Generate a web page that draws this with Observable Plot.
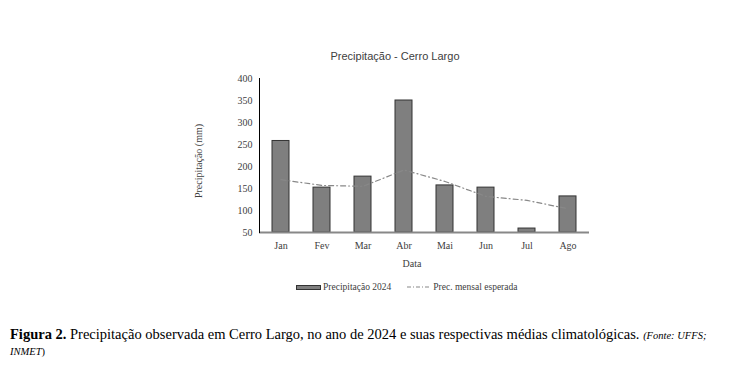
<!DOCTYPE html>
<html>
<head>
<meta charset="utf-8">
<script src="https://cdn.jsdelivr.net/npm/d3@7"></script>
<script src="https://cdn.jsdelivr.net/npm/@observablehq/plot@0.6"></script>
<style>
  html, body { margin: 0; padding: 0; background: #fff; }
  #wrap { position: relative; width: 737px; height: 377px; overflow: hidden; }
  #chart { position: absolute; left: 0; top: 0; }
  .abs { position: absolute; white-space: nowrap; }
  #title { left: 395px; top: 50px; transform: translateX(-50%); font: 11px "Liberation Sans", Arial, sans-serif; color: #404040; }
  #xlabel { left: 412px; top: 258px; transform: translateX(-50%); font: 10px "Liberation Serif", "Times New Roman", serif; color: #404040; }
  #ylabel { left: 198px; top: 161px; transform: translate(-50%, -50%) rotate(-90deg); font: 10px "Liberation Serif", "Times New Roman", serif; color: #404040; }
  #legend { left: 296px; top: 282px; font: 9.5px "Liberation Serif", "Times New Roman", serif; color: #404040; display: flex; align-items: center; }
  .sw-bar { display: inline-block; width: 23px; height: 3px; background: #7f7f7f; border: 1px solid #333; margin-right: 2px; }
  #caption { left: 10px; top: 327px; font: 14.5px "Liberation Serif", "Times New Roman", serif; color: #000; line-height: 15px; }
  #caption .src { font-style: italic; font-size: 10.5px; }
</style>
</head>
<body>
<div id="wrap">
  <div id="chart"></div>
  <div id="title" class="abs">Precipitação - Cerro Largo</div>
  <div id="ylabel" class="abs">Precipitação (mm)</div>
  <div id="xlabel" class="abs">Data</div>
  <div id="legend" class="abs">
    <span class="sw-bar"></span><span>Precipitação 2024</span>
    <span style="display:inline-block;width:16px"></span>
    <svg width="24" height="6" style="margin-right:2px"><line x1="0" y1="3" x2="24" y2="3" stroke="#888" stroke-width="1.2" stroke-dasharray="4,2,1,2"/></svg><span>Prec. mensal esperada</span>
  </div>
  <div id="caption" class="abs"><b>Figura 2.</b> Precipitação observada em Cerro Largo, no ano de 2024 e suas respectivas médias climatológicas. <span class="src">(Fonte: UFFS;</span><br><span class="src">INMET</span><span style="font-size:10.5px">)</span></div>
</div>
<script>
const months = ["Jan", "Fev", "Mar", "Abr", "Mai", "Jun", "Jul", "Ago"];
const precip2024 = [258, 152, 177, 350, 157, 152, 59, 132];
const precExpected = [170, 157, 155, 192, 166, 132, 123, 104];
const yTicks = [50, 100, 150, 200, 250, 300, 350, 400];
const yBase = 50;

const data = months.map((m, i) => ({month: m, obs: precip2024[i], exp: precExpected[i]}));

const chart = Plot.plot({
  width: 737,
  height: 282,
  marginLeft: 259,
  marginRight: 148,
  marginTop: 78,
  marginBottom: 50,
  style: {fontFamily: "'Liberation Serif', 'Times New Roman', serif", fontSize: "10px", color: "#404040", background: "#fff"},
  x: {domain: months, paddingInner: 0.59, paddingOuter: 0.295, label: null},
  y: {domain: [yBase, 400], label: null},
  marks: [
    Plot.barY(data, {x: "month", y1: yBase, y2: "obs", fill: "#7f7f7f", stroke: "#333", strokeWidth: 1}),
    Plot.ruleY([yBase], {stroke: "#888", strokeWidth: 2}),
    Plot.line(data, {x: "month", y: "exp", stroke: "#888", strokeWidth: 1.2, strokeDasharray: "5,3,1,3"}),
    Plot.axisY({ticks: yTicks, tickSize: 0, tickPadding: 7, label: null, fontSize: 10}),
    Plot.axisX({tickSize: 0, tickPadding: 9, label: null, fontSize: 10}),
    Plot.frame({anchor: "left", stroke: "#000", strokeWidth: 1})
  ]
});
document.getElementById("chart").appendChild(chart);
</script>
</body>
</html>
